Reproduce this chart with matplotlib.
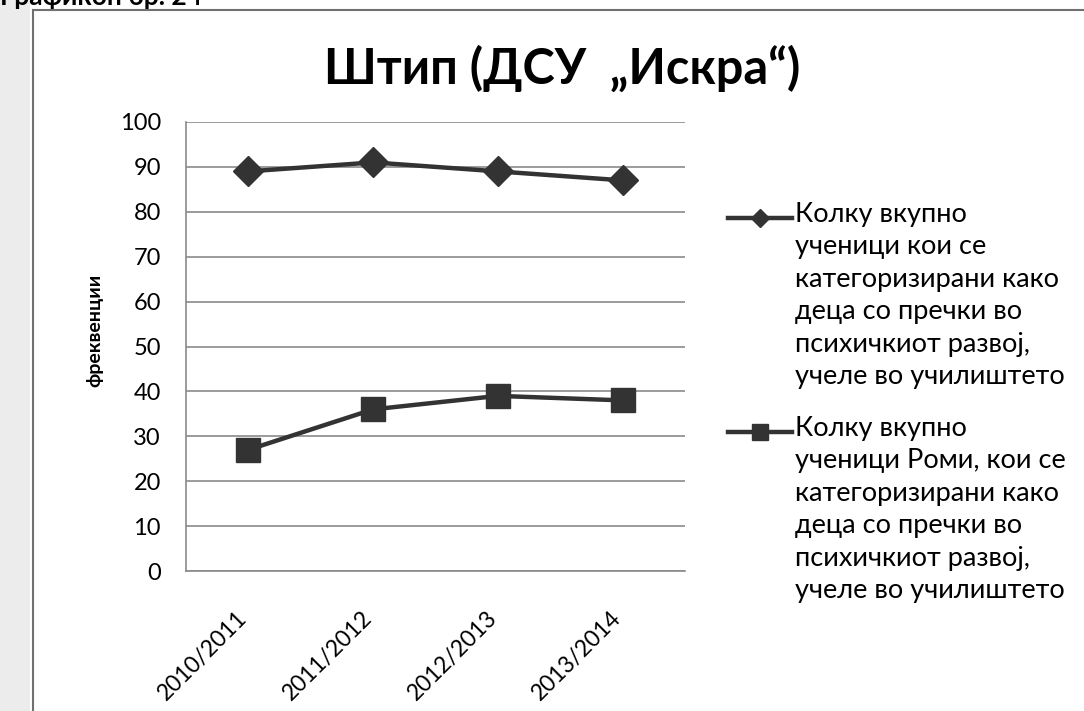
import matplotlib.pyplot as plt
import matplotlib.patches as mpatches
import matplotlib.transforms as mtransforms
from matplotlib.lines import Line2D
import numpy as np

# data
years = ['2010/2011', '2011/2012', '2012/2013', '2013/2014']
vkupno = [89, 91, 89, 87]
romi = [27, 36, 39, 38]

title = 'Штип (ДСУ  „Искра“)'
ylabel = 'фреквенции'
legend_labels = [
    'Колку вкупно\nученици кои се\nкатегоризирани како\nдеца со пречки во\nпсихичкиот развој,\nучеле во училиштето',
    'Колку вкупно\nученици Роми, кои се\nкатегоризирани како\nдеца со пречки во\nпсихичкиот развој,\nучеле во училиштето',
]

plt.rcParams['font.family'] = ['Lato', 'DejaVu Sans']
W, H = 1084, 711
fig = plt.figure(figsize=(W / 100, H / 100), dpi=100)

def fx(px):
    return px / W

def fy(py):
    return 1 - py / H

# light strip on the left and the chart frame
fig.patches.append(mpatches.Rectangle((0, 0), fx(30), 1, transform=fig.transFigure,
                                      facecolor='#ececec', edgecolor='none', zorder=0))
fig.add_artist(Line2D([fx(33), fx(33)], [0, fy(10)], color='#707070', lw=1.5))
fig.add_artist(Line2D([fx(33), 1], [fy(10), fy(10)], color='#707070', lw=1.5))
fig.text(fx(0), fy(5), 'Графикон бр. 24', fontsize=19, fontweight='bold',
         va='baseline', ha='left')

ax = fig.add_axes([fx(186), fy(571), fx(685 - 186), (571 - 122) / H])
x = np.arange(len(years))
col = '#333333'
ax.plot(x, vkupno, color=col, lw=3.2, marker='D', markersize=15, zorder=3)
ax.plot(x, romi, color=col, lw=3.2, marker='s', markersize=17, zorder=3)

ax.set_xlim(-0.5, len(years) - 0.5)
ax.set_ylim(0, 100)
ax.set_yticks(np.arange(0, 101, 10))
ax.set_xticks(x)
ax.set_xticklabels([])
ax.tick_params(axis='both', length=0, labelsize=17)
ax.tick_params(axis='y', pad=18)
ax.grid(axis='y', color='#8a8a8a', lw=1.2)
ax.set_axisbelow(True)
for s in ['top', 'right']:
    ax.spines[s].set_visible(False)
for s in ['left', 'bottom']:
    ax.spines[s].set_color('#8a8a8a')
    ax.spines[s].set_linewidth(1.2)

# rotated category labels, ending just under each category
off = mtransforms.ScaledTranslation(-0.12, -0.36, fig.dpi_scale_trans)
for xi, lab in zip(x, years):
    ax.text(xi, 0, lab, transform=ax.get_xaxis_transform() + off, rotation=45,
            ha='right', va='top', rotation_mode='anchor', fontsize=16.5)

fig.text(fx(95), fy(330), ylabel, rotation=90, fontsize=14, fontweight='bold',
         ha='center', va='center')
fig.text(fx(562), fy(68), title, fontsize=35, fontweight='bold', ha='center', va='center')

# legend drawn by hand
markers = ['D', 's']
tops = [218, 432]
for m, lab, t in zip(markers, legend_labels, tops):
    fig.add_artist(Line2D([fx(728), fx(792)], [fy(t), fy(t)], color=col, lw=3.2))
    fig.add_artist(Line2D([fx(760)], [fy(t)], color=col, marker=m,
                          markersize=9 if m == 'D' else 12, lw=0))
    fig.text(fx(795), fy(t - 16), lab, fontsize=19.5, ha='left', va='top',
             linespacing=1.37)

fig.savefig('out.png', dpi=100)
